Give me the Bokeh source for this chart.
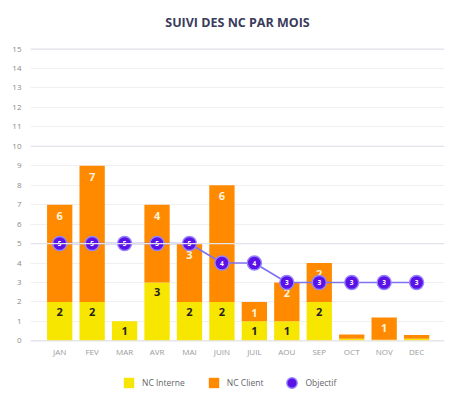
from bokeh.plotting import figure
from bokeh.models import ColumnDataSource, Range1d, FixedTicker, Span, Legend, LegendItem
from bokeh.core.properties import value
from bokeh.embed import file_html
from bokeh.resources import INLINE

months = ["JAN", "FEV", "MAR", "AVR", "MAI", "JUIN", "JUIL", "AOU", "SEP", "OCT", "NOV", "DEC"]
nc_interne = [2, 2, 1, 3, 2, 2, 1, 1, 2, 0.1, 0.05, 0.1]
nc_client = [5, 7, 0, 4, 3, 6, 1, 2, 2, 0.22, 1.15, 0.2]
objectif = [5, 5, 5, 5, 5, 4, 4, 3, 3, 3, 3, 3]
interne_labels = ["2", "2", "1", "3", "2", "2", "1", "1", "2", "", "", ""]
client_labels = ["6", "7", "", "4", "3", "6", "1", "2", "2", "", "1", ""]
y_ticks = list(range(0, 16))

FONT = "Open Sans"
xs = list(range(len(months)))
totals = [a + b for a, b in zip(nc_interne, nc_client)]

src = ColumnDataSource(dict(
    x=xs, m=months, interne=nc_interne, total=totals, obj=objectif,
    il=interne_labels, cl=client_labels, ol=[str(o) for o in objectif],
    zero=[0] * len(months),
))

p = figure(width=450, height=404, output_backend="svg", toolbar_location=None,
           x_range=Range1d(-0.9, 11.86), y_range=Range1d(-3.07, 15.39),
           x_axis_location=None, title="SUIVI DES NC PAR MOIS")
p.title.align = "center"
p.title.text_font = FONT
p.title.text_font_size = "12.5px"
p.title.text_font_style = "bold"
p.title.text_color = "#3b3b5c"
p.title.standoff = 22
p.min_border_top = 2
p.min_border_right = 6
p.min_border_left = 30
p.min_border_bottom = 4
p.background_fill_color = "white"
p.border_fill_color = "white"
p.outline_line_color = None

# grid
p.xgrid.grid_line_color = None
p.ygrid.ticker = FixedTicker(ticks=y_ticks)
p.ygrid.grid_line_color = "#f0f0f3"
p.ygrid.grid_line_width = 1
for v in [0, 5, 10, 15]:
    p.add_layout(Span(location=v, dimension="width", line_color="#e3e3ea", line_width=1.3))

# y axis
p.yaxis.ticker = FixedTicker(ticks=y_ticks)
p.yaxis.axis_line_color = None
p.yaxis.major_tick_line_color = None
p.yaxis.minor_tick_line_color = None
p.yaxis.major_tick_out = 0
p.yaxis.major_tick_in = 0
p.yaxis.minor_tick_out = 0
p.yaxis.major_label_text_font = FONT
p.yaxis.major_label_text_font_size = "8px"
p.yaxis.major_label_text_color = "#8a8a8a"
p.yaxis.major_label_standoff = 9

# month labels (category axis labels)
p.text(x="x", y="zero", text="m", source=src, y_offset=11,
       text_align="center", text_baseline="middle", text_font=value(FONT),
       text_font_size="8px", text_color="#9a9a9a")

# bars
r_int = p.vbar(x="x", bottom=0, top="interne", width=0.78, source=src,
               fill_color="#f7e600", line_color=None)
r_cli = p.vbar(x="x", bottom="interne", top="total", width=0.78, source=src,
               fill_color="#ff8a00", line_color=None)

p.text(x="x", y="interne", text="il", source=src, y_offset=10,
       text_align="center", text_baseline="middle", text_font=value(FONT),
       text_font_size="11px", text_font_style="bold", text_color="#222222")
p.text(x="x", y="total", text="cl", source=src, y_offset=11,
       text_align="center", text_baseline="middle", text_font=value(FONT),
       text_font_size="11px", text_font_style="bold", text_color="#fff3dd")

# objectif
p.line(x="x", y="obj", source=src, line_color="#7d72f0", line_width=1.6)
r_obj = p.ellipse(x="x", y="obj", source=src, width=14, height=14,
                  width_units="screen", height_units="screen",
                  fill_color="#5a12e6", line_color="#9484ff", line_width=1.4)
p.text(x="x", y="obj", text="ol", source=src,
       text_align="center", text_baseline="middle", text_font=value(FONT),
       text_font_size="6.5px", text_font_style="bold", text_color="white")

legend = Legend(items=[
    LegendItem(label="NC Interne", renderers=[r_int]),
    LegendItem(label="NC Client", renderers=[r_cli]),
    LegendItem(label="Objectif", renderers=[r_obj]),
], orientation="horizontal", location=(92, 11))
legend.label_text_font = FONT
legend.label_text_font_size = "8.5px"
legend.label_text_color = "#666666"
legend.glyph_width = 13
legend.glyph_height = 13
legend.spacing = 22
legend.label_standoff = 7
legend.border_line_color = None
legend.background_fill_alpha = 0
legend.padding = 5
p.add_layout(legend)

open("out.html", "w").write(file_html(p, INLINE))
